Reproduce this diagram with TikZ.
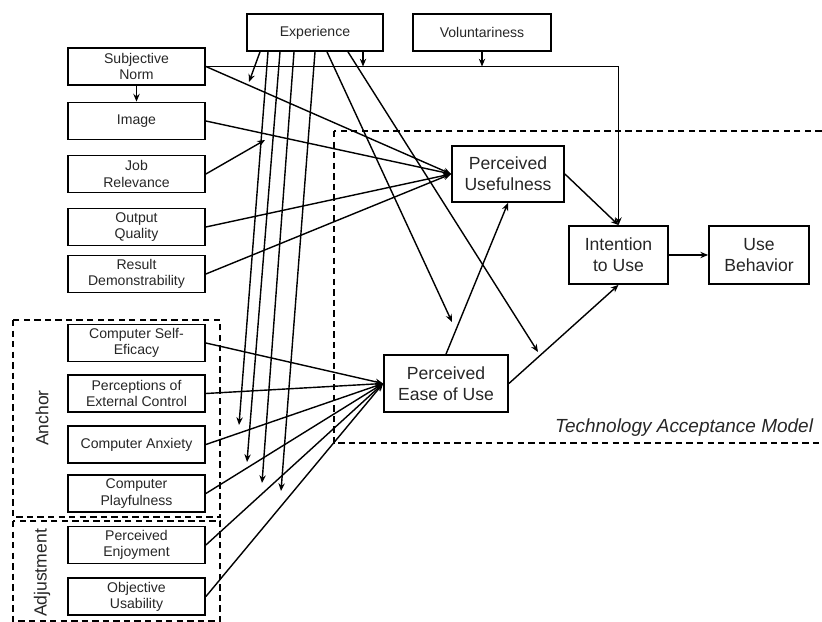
\documentclass[tikz,border=0pt]{standalone}
\usepackage{fontspec}
\setmainfont{Liberation Sans}
\usetikzlibrary{arrows.meta}
\usetikzlibrary{calc,positioning}

\tikzset{
    smallbox/.style={draw, line width=1.25pt, minimum width=3.425cm, minimum height=0.925cm,
        inner sep=1pt, align=center, text=black!85, font=\fontsize{10}{11.5}\selectfont},
    bigbox/.style={draw, line width=1.25pt, inner sep=1pt, align=center, text=black!85,
        font=\fontsize{12.5}{15}\selectfont},
    grp/.style={line width=1.1pt, dash pattern=on 4.5pt off 3pt},
    link/.style={->, line width=1pt},
}

\begin{document}
\begin{tikzpicture}[>={Stealth[length=5.5pt,width=4.5pt]}, x=0.025cm, y=-0.025cm]

    \useasboundingbox (0,0) rectangle (822,622);

    % moderators
    \node[smallbox, minimum width=3.4cm]  (exp) at (315,32.5) {Experience};
    \node[smallbox, minimum width=3.45cm] (vol) at (482,32.5) {Voluntariness};

    % determinants of perceived usefulness
    \node[smallbox] (sn)  at (136.5,66.5) {Subjective\\Norm};
    \node[smallbox] (img) at (136.5,121)  {Image};
    \node[smallbox] (jr)  at (136.5,174)  {Job\\Relevance};
    \node[smallbox] (oq)  at (136.5,227)  {Output\\Quality};
    \node[smallbox] (rd)  at (136.5,274)  {Result\\Demonstrability};

    % determinants of perceived ease of use
    \node[smallbox] (cse) at (136.5,343)   {Computer Self-\\Eficacy};
    \node[smallbox] (pec) at (136.5,393.5) {Perceptions of\\External Control};
    \node[smallbox] (ca)  at (136.5,444.5) {Computer Anxiety};
    \node[smallbox] (cp)  at (136.5,493.5) {Computer\\Playfulness};
    \node[smallbox] (pe)  at (136.5,545)   {Perceived\\Enjoyment};
    \node[smallbox] (ou)  at (136.5,596.5) {Objective\\Usability};

    % TAM core
    \node[bigbox, minimum width=2.8cm, minimum height=1.4cm]     (pu)   at (508,174)   {Perceived\\Usefulness};
    \node[bigbox, minimum width=3.1cm, minimum height=1.425cm]   (peou) at (446,383.5) {Perceived\\Ease of Use};
    \node[bigbox, minimum width=2.475cm, minimum height=1.45cm]  (itu)  at (618.5,255) {Intention\\to Use};
    \node[bigbox, minimum width=2.5cm, minimum height=1.45cm]    (ub)   at (759,255)   {Use\\Behavior};

    % groups
    \draw[grp] (334,131) rectangle (830,443);
    \node[anchor=base east, text=black!85, font=\fontsize{13.5}{15}\selectfont\itshape] (tamlbl) at (818,433) {Technology Acceptance Model};
    \draw[grp] (13,320) rectangle (220,517);
    \draw[grp] (13,521) rectangle (220,621);
    \node[rotate=90, text=black!85, font=\fontsize{12.5}{15}\selectfont] (anclbl) at (42,418) {Anchor};
    \node[rotate=90, text=black!85, font=\fontsize{12.5}{15}\selectfont] (adjlbl) at (42,573) {Adjustment};

    % main paths
    \draw[link] (sn) -- (img);
    \foreach \n in {sn,img,oq,rd}
        \draw[link] (\n.east) -- (pu.west);
    \coordinate (jrtip) at (265,140);
    \draw[link] (jr.east) -- (jrtip);
    \foreach \n in {cse,pec,ca,cp,pe,ou}
        \draw[link] (\n.east) -- (peou.west);
    \draw[link] (peou.north) -- (pu.south);
    \draw[link] (peou.east) -- (itu.south);
    \draw[link] (pu.east) -- (itu.north);
    \draw[link] (itu) -- (ub);
    \draw[link] (sn.east) -- (sn.east -| itu.north) -- (itu.north);
    \draw[link] (vol.south) -- (vol.south |- sn.east);

    % experience moderation
    \foreach \i/\dx in {1/-55,2/-47,3/-35,4/-21,5/0,6/12,7/33,8/48}
        \coordinate (e\i) at ($(exp.south)+(\dx,0)$);
    \coordinate (t1) at (249,82);
    \coordinate (t2) at (239,425);
    \coordinate (t3) at (247,462);
    \coordinate (t4) at (262,483);
    \coordinate (t5) at (281,491);
    \coordinate (t6) at (452,322);
    \coordinate (t7) at (538,352);
    \foreach \i in {1,...,7}
        \draw[link] (e\i) -- (t\i);
    \draw[link] (e8) -- (e8 |- sn.east);

\end{tikzpicture}
\end{document}
